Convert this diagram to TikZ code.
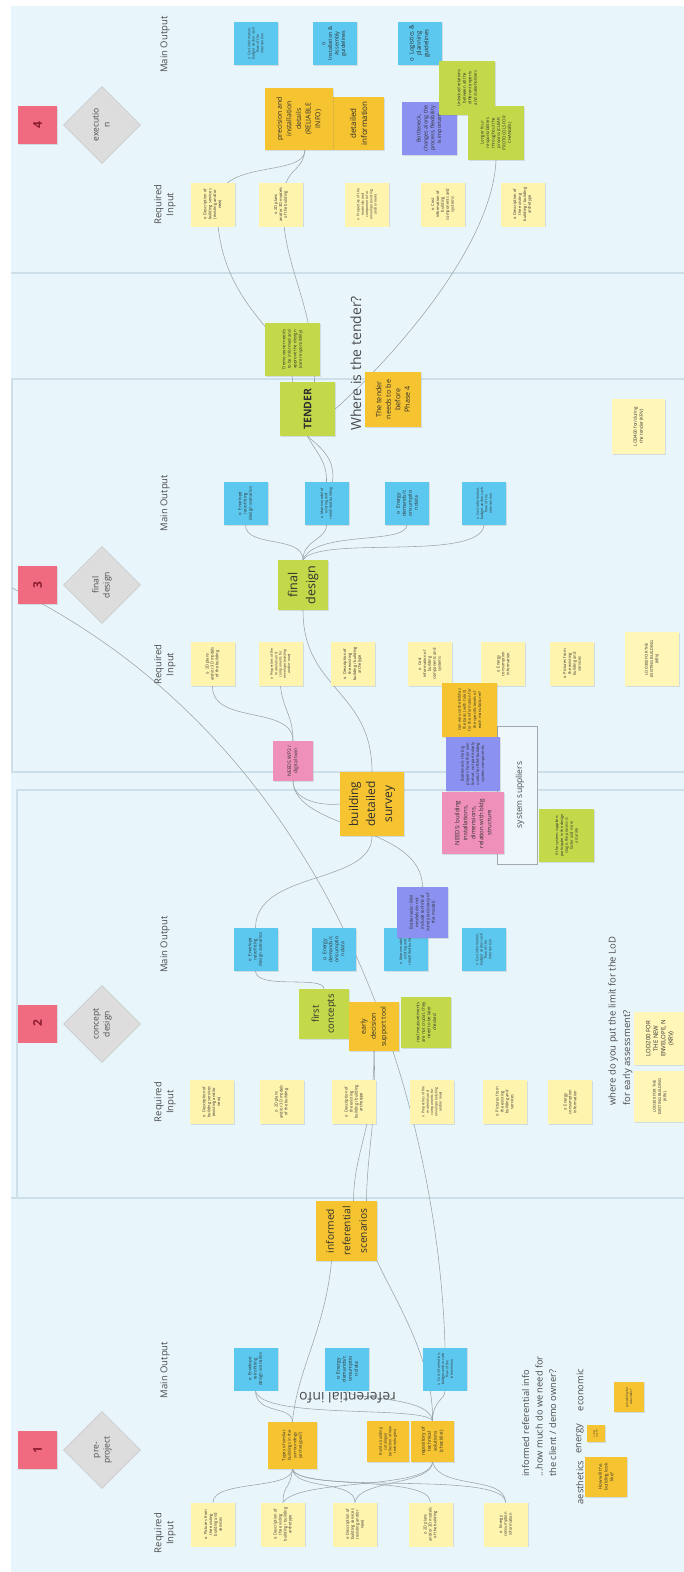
\documentclass[tikz,border=0pt]{standalone}
\usepackage{fontspec}
\setmainfont{Open Sans}
\usetikzlibrary{shapes.geometric,shadows}
\definecolor{bgc}{HTML}{E8F6FC}
\definecolor{framec}{HTML}{CDE0E9}
\definecolor{linkc}{HTML}{9AA2A7}
\definecolor{yin}{HTML}{FFF4AE}
\definecolor{bout}{HTML}{5CC8EF}
\definecolor{orn}{HTML}{F6C431}
\definecolor{grn}{HTML}{C4D94A}
\definecolor{prp}{HTML}{8B91F1}
\definecolor{pnk}{HTML}{EE90BA}
\definecolor{lyl}{HTML}{FFF6B8}
\definecolor{redc}{HTML}{F06B80}
\definecolor{redt}{HTML}{8C1D2F}
\definecolor{diaf}{HTML}{DDDDDD}
\definecolor{diad}{HTML}{CCCCCC}
\definecolor{ink}{HTML}{2F2F2F}
\definecolor{lblc}{HTML}{4B4B4B}
\definecolor{suppc}{HTML}{A3A9AE}
\definecolor{suppf}{HTML}{EEF8FC}

\pgfdeclarelayer{paper}
\pgfdeclarelayer{wires}
\pgfsetlayers{paper,wires,main}

% vertical (bottom-to-top) text block: width, font size, leading, text
\newcommand\vt[4]{\rotatebox{90}{\parbox{#1pt}{\centering\fontsize{#2}{#3}\selectfont #4\par}}}

% recurring sticky-note texts
\newcommand\tDesServ{o~ Description of building services (existing and/or new)}
\newcommand\tPlans{o~ 2D plans and/or 3D models of the building}
\newcommand\tProps{o~ Properties of the materials and components for envelope (existing and/or new)}
\newcommand\tCostIn{o~ Cost information of building components and systems}
\newcommand\tDesBld{o~ Description of the existing building / building archetype}
\newcommand\tPics{o~ Pictures from the existing building and services}
\newcommand\tEnIn{o~ Energy consumption information}
\newcommand\tEnv{o~ Envelope retrofitting design scenarios}
\newcommand\tEnD{o~ Energy\\demands/c\\onsumptio\\n data}
\newcommand\tMat{o~ Matrix model of existing and retrofitted building}
\newcommand\tCostOut{o~ Cost information, budget and/or cash flow of the intervention}

\begin{document}
\begin{tikzpicture}[x=1pt,y=1pt,
  link/.style={draw=linkc, line width=0.55pt},
  framel/.style={draw=framec, line width=1.3pt},
  note/.style={rectangle, inner sep=0pt, text=ink,
    drop shadow={shadow xshift=1.1pt, shadow yshift=-0.5pt, opacity=0.22}},
  box/.style 2 args={minimum width=#1pt, minimum height=#2pt},
  yin/.style={note, fill=yin, box={44}{44}},
  bout/.style={note, fill=bout, box={44}{43}},
  orn/.style={note, fill=orn},
  grn/.style={note, fill=grn},
  prp/.style={note, fill=prp},
  pnk/.style={note, fill=pnk},
  lyl/.style={note, fill=lyl},
  redsq/.style={note, fill=redc, box={39}{38}, text=redt,
    font=\fontsize{12}{14}\selectfont\bfseries},
  phase/.style={diamond, aspect=1, minimum width=77pt, minimum height=77pt,
    inner sep=0pt, fill=diaf, draw=diad, line width=0.6pt, text=lblc},
  lbl/.style={rotate=90, align=center, text=lblc, font=\fontsize{9.5}{12}\selectfont},
  ask/.style={inner sep=0pt, text=lblc},
]
\useasboundingbox (0,0) rectangle (684,-1572);

\begin{pgfonlayer}{paper}
\fill[white] (0,0) rectangle (684,-1572);
\fill[bgc] (11,-6) rectangle (684,-1572);
% phase frames and separators
\draw[framel] (11,-273) -- (684,-273);
\draw[framel] (12,-379) rectangle (690,-772);
\draw[framel] (17,-790) rectangle (690,-1198);
\draw[framel] (11,-1198) -- (684,-1198);
\end{pgfonlayer}

% system suppliers bracket
\node[draw=suppc, line width=0.6pt, fill=suppf, box={40}{138}, inner sep=0pt,
      text=lblc] (supp) at (517,-795)
      {\hspace*{6pt}\rotatebox{90}{\fontsize{8.5}{10}\selectfont system suppliers}};

% ---------- nodes ----------
% phase 4
\node[redsq] (red4) at (37.5,-125) {\rotatebox{90}{4}};
\node[phase] (dia4) at (102,-125) {\rotatebox{90}{\fontsize{8.5}{11}\selectfont\begin{tabular}{@{}c@{}}executio\\n\end{tabular}}};
\node[lbl] (mo4) at (165,-44.5) {Main Output};
\node[lbl] (ri4) at (165,-204.5) {Required\\Input};
\node[bout] (o4a) at (255.5,-43.5) {\vt{34}{3.5}{4.3}{\tCostOut}};
\node[bout] (o4b) at (334.5,-43.5) {\vt{38}{5.4}{6.6}{o\\Installation \& Assembly guidelines}};
\node[bout] (o4c) at (419.5,-43.5) {\vt{38}{6}{7.4}{o~ Logistics \& planning guidelines}};
\node[orn, box={51}{53}] (detail) at (358.5,-123.5) {\vt{46}{8}{11}{detailed information}};
\node[orn, box={68}{62}] (prec) at (299,-119) {\vt{52}{6.9}{9.6}{precision and\\installation\\details\\(RELIABLE\\INFO)}};
\node[prp, box={55}{53}] (bn4) at (429.5,-128.5) {\vt{46}{5.4}{6.8}{Bottleneck, changes along the process, flexibility is important}};
\node[grn, box={56}{54}] (unlock) at (467,-88) {\vt{40}{4.3}{5.5}{Unlocked relations between all the different experts and stakeholders}};
\node[grn, box={56}{54}] (longer) at (496,-133) {\vt{42}{4.3}{5.5}{Longer four responsibilities throughout the process (CLEAR PROTOCOLS FOR CHANGES)}};
\node[yin] (i4a) at (212.5,-204.5) {\vt{34}{4}{4.9}{\tDesServ}};
\node[yin] (i4b) at (281,-204.5) {\vt{34}{4}{4.9}{\tPlans}};
\node[yin] (i4c) at (367,-204.5) {\vt{34}{3.5}{4.3}{\tProps}};
\node[yin] (i4d) at (443,-204.5) {\vt{34}{4}{4.9}{\tCostIn}};
\node[yin] (i4e) at (522.5,-204.5) {\vt{34}{4}{4.9}{\tDesBld}};

% tender zone
\node[grn, box={55}{53}] (demo) at (292.5,-349.5) {\vt{42}{4.3}{5.5}{Demo owner needs to be informed and approve the design (care responsibility)}};
\node[grn, box={55}{54}] (tender) at (307.5,-409) {\rotatebox{90}{\fontsize{10.5}{12}\selectfont\bfseries TENDER}};
\node[orn, box={56}{55}] (before) at (393,-399.5) {\vt{46}{7.2}{9.5}{The tender\\needs to be\\before\\Phase 4}};
\node[lyl, box={53}{55}] (lod400) at (638.5,-426.5) {\vt{42}{4.5}{5.8}{LOD400 for/during the tender (KRV)}};

% phase 3
\node[redsq] (red3) at (37.5,-585) {\rotatebox{90}{3}};
\node[phase] (dia3) at (102,-585) {\rotatebox{90}{\fontsize{8.5}{11}\selectfont\begin{tabular}{@{}c@{}}final\\design\end{tabular}}};
\node[lbl] (mo3) at (165,-503) {Main Output};
\node[lbl] (ri3) at (165,-664.5) {Required\\Input};
\node[bout] (o3a) at (245.5,-503.5) {\vt{34}{4.3}{5.2}{\tEnv}};
\node[bout] (o3b) at (326.5,-503.5) {\vt{34}{3.6}{4.4}{\tMat}};
\node[bout] (o3c) at (407,-503.5) {\vt{34}{5}{6}{\tEnD}};
\node[bout] (o3d) at (484,-503.5) {\vt{34}{3.5}{4.3}{\tCostOut}};
\node[grn, box={50}{50}] (fd) at (303,-585) {\vt{46}{12.5}{18}{final design}};
\node[yin] (i3a) at (212.5,-664) {\vt{34}{4}{4.9}{\tPlans}};
\node[yin] (i3b) at (280.5,-664) {\vt{34}{3.5}{4.3}{\tProps}};
\node[yin] (i3c) at (352.5,-664) {\vt{34}{4}{4.9}{\tDesBld}};
\node[yin] (i3d) at (430,-664) {\vt{34}{4}{4.9}{\tCostIn}};
\node[yin] (i3e) at (503,-664) {\vt{34}{4}{4.9}{\tEnIn}};
\node[yin] (i3f) at (572,-664) {\vt{34}{4}{4.9}{\tPics}};
\node[lyl, box={54}{54}] (lod3e) at (652,-659) {\vt{42}{4}{5.2}{LOD300 FOR THE EXISTING BUILDING (KRV)}};
\node[pnk, box={40}{40}] (needs) at (293,-761) {\vt{32}{5}{6.2}{NEEDS WP2 / digital twin}};
\node[orn, box={55}{54}] (canwe) at (469.5,-710) {\vt{44}{4}{5.1}{Can we use the BIM as the basis (with `rules') for the information for the specific levels of each manufacturer?}};
\node[prp, box={54}{54}] (bn3) at (473,-764) {\vt{44}{4}{5.1}{Bottleneck: the big players have their own format, not particularly useful for BIM building system components}};
\node[orn, box={64}{64}] (bds) at (372,-804) {\vt{58}{12}{17}{building detailed survey}};
\node[pnk, box={62}{62}] (needsb) at (473,-823) {\vt{52}{6}{8}{NEEDS: building installations, dimensions, relation with bldg. structure}};
\node[grn, box={55}{53}] (ifsys) at (566.5,-835.5) {\vt{44}{3.8}{4.9}{If the system suppliers participate in the design stage, the process is faster and more accurate}};

% phase 2
\node[redsq] (red2) at (37.5,-1023.5) {\rotatebox{90}{2}};
\node[phase] (dia2) at (102,-1024) {\rotatebox{90}{\fontsize{8.5}{11}\selectfont\begin{tabular}{@{}c@{}}concept\\design\end{tabular}}};
\node[lbl] (mo2) at (165,-944.5) {Main Output};
\node[lbl] (ri2) at (165,-1102) {Required\\Input};
\node[bout] (o2a) at (255.5,-949.5) {\vt{34}{4.3}{5.2}{\tEnv}};
\node[bout] (o2b) at (333.5,-949.5) {\vt{34}{5}{6}{\tEnD}};
\node[bout] (o2c) at (405.5,-949.5) {\vt{34}{3.6}{4.4}{\tMat}};
\node[bout] (o2d) at (483.5,-949.5) {\vt{34}{3.5}{4.3}{\tCostOut}};
\node[prp, box={51}{51}] (bn2) at (422.5,-912.5) {\vt{42}{4.4}{5.5}{Bottlenecks: BIM models do not include technical survey (accuracy of the model)}};
\node[grn, box={50}{50}] (fc) at (324,-1014) {\vt{46}{9.5}{15}{first concepts}};
\node[orn, box={50}{49}] (ed) at (374,-1026.5) {\vt{44}{7}{10}{early decision support tool}};
\node[grn, box={50}{51}] (real) at (426,-1022.5) {\vt{42}{4.4}{5.6}{real measurements are not crucial, they need to be later checked}};
\node[lyl, box={53}{53}] (lod2n) at (660,-1038.5) {\vt{46}{6}{7.5}{LOD200 FOR THE NEW ENVELOPE, N (KRV)}};
\node[lyl, box={53}{51}] (lod2e) at (660,-1096.5) {\vt{40}{4}{5.2}{LOD300 FOR THE EXISTING BUILDING (KRV)}};
\node[yin] (i2a) at (211.5,-1102) {\vt{34}{4}{4.9}{\tDesServ}};
\node[yin] (i2b) at (281.5,-1102) {\vt{34}{4}{4.9}{\tPlans}};
\node[yin] (i2c) at (354,-1102) {\vt{34}{4}{4.9}{\tDesBld}};
\node[yin] (i2d) at (432,-1102) {\vt{34}{3.5}{4.3}{\tProps}};
\node[yin] (i2e) at (504.5,-1102) {\vt{34}{4}{4.9}{\tPics}};
\node[yin] (i2f) at (570,-1102) {\vt{34}{4}{4.9}{\tEnIn}};

% phase 1
\node[orn, box={61}{60}] (irs) at (346.5,-1231) {\vt{58}{10.2}{16.5}{informed referential scenarios}};
\node[redsq] (red1) at (37.5,-1450) {\rotatebox{90}{1}};
\node[phase] (dia1) at (102,-1450) {\rotatebox{90}{\fontsize{8.5}{11}\selectfont\begin{tabular}{@{}c@{}}pre-\\project\end{tabular}}};
\node[lbl] (mo1) at (165,-1370) {Main Output};
\node[lbl] (ri1) at (165,-1533) {Required\\Input};
\node[bout] (o1a) at (255.5,-1369) {\vt{34}{4.3}{5.2}{\tEnv}};
\node[bout] (o1b) at (347,-1369) {\vt{34}{5}{6}{\tEnD}};
\node[bout] (o1c) at (445,-1369) {\vt{34}{3.5}{4.3}{\tCostOut}};
\node[orn, box={49}{47}] (types) at (292.5,-1445.5) {\vt{38}{4.3}{5.5}{Types of similar buildings in the surroundings (archetypes?)}};
\node[orn, box={42}{41}] (build) at (388,-1441.5) {\vt{34}{3.8}{4.8}{Build a building catalogue (collection of new technologies)}};
\node[orn, box={43}{41}] (repo) at (432.5,-1441.5) {\vt{36}{4.8}{6}{repository of technical solutions (checklist)}};
\node[yin] (i1a) at (213,-1524.5) {\vt{34}{4}{4.9}{\tPics}};
\node[yin] (i1b) at (283,-1524.5) {\vt{34}{4}{4.9}{\tDesBld}};
\node[yin] (i1c) at (355,-1524.5) {\vt{34}{4}{4.9}{\tDesServ}};
\node[yin] (i1d) at (430.5,-1524.5) {\vt{34}{4}{4.9}{\tPlans}};
\node[yin] (i1e) at (505.5,-1524.5) {\vt{34}{4}{4.9}{\tEnIn}};
\node[orn, box={42}{40}] (look) at (606,-1477) {\vt{34}{4.5}{5.7}{How will the building look like?}};
\node[orn, box={18}{17}] (enote) at (596,-1433.5) {\vt{14}{2.2}{2.7}{energy target?}};
\node[orn, box={30}{30}] (subs) at (629,-1397) {\vt{24}{3.2}{4}{possibility for subsidies?}};

% ---------- free texts ----------
\node[ask, rotate=90, font=\fontsize{14}{16}\selectfont] (tq) at (356,-363.5) {Where is the tender?};
\node[ask, anchor=south] (lodq) at (620,-1106) {\rotatebox{90}{\fontsize{9.5}{14.5}\selectfont\begin{tabular}{@{}l@{}}where do you put the limit for the LoD\\for early assessment?\end{tabular}}};
\node[ask, anchor=south] (infq) at (540,-1477) {\rotatebox{90}{\fontsize{9.3}{13.5}\selectfont\begin{tabular}{@{}l@{}}informed referential info\\...how much do we need for\\the client / demo owner?\end{tabular}}};
\node[ask, rotate=90, font=\fontsize{9.3}{11}\selectfont] (aes) at (580,-1482.5) {aesthetics};
\node[ask, rotate=90, font=\fontsize{9.3}{11}\selectfont] (ene) at (580,-1438.5) {energy};
\node[ask, rotate=90, font=\fontsize{9.3}{11}\selectfont] (eco) at (580,-1390) {economic};
\node[ask, font=\fontsize{14}{16}\selectfont] (refinfo) at (347.5,-1398) {\rotatebox{180}{referential info}};

% ---------- connectors, drawn under the notes ----------
\coordinate (dstart) at (12,-588);
\begin{pgfonlayer}{wires}
% phase 4 towards the tender
\draw[link] ([xshift=6pt]prec.south) .. controls (304,-178) and (217,-158) .. (217,-205)
            .. controls (217,-310) and (292,-330) .. ([xshift=-15pt]tender.north);
\draw[link] ([xshift=6pt]prec.south) .. controls (302,-175) and (283,-165) .. (283,-205)
            .. controls (283,-270) and (314,-300) .. ([xshift=7pt]tender.north);
\draw[link] (longer.south) .. controls (492,-250) and (385,-365) .. (tender.east);
% tender and phase 3 outputs
\draw[link] (tender.south) .. controls (318,-455) and (327,-462) .. (o3b.north);
\draw[link] (tender.south) .. controls (324,-450) and (335,-460) .. ([xshift=6pt]o3b.north);
\draw[link] (o3a.south) .. controls (246,-548) and (303,-535) .. (fd.north);
\draw[link] (o3b.south) .. controls (326,-540) and (303,-540) .. (fd.north);
\draw[link] (o3c.south) .. controls (405,-545) and (315,-530) .. (fd.north);
\draw[link] (o3d.south) .. controls (480,-562) and (320,-535) .. (fd.north);
\draw[link] (fd.south) .. controls (303,-690) and (372,-690) .. (bds.north);
% phase 3 inputs to the survey
\draw[link] (i3a.south) .. controls (212,-725) and (293,-705) .. (needs.north);
\draw[link] (i3b.south) .. controls (283,-710) and (293,-715) .. (needs.north);
\draw[link] (needs.south) .. controls (293,-800) and (320,-806) .. (bds.west);
\draw[link] (needs.south) .. controls (295,-830) and (422,-825) .. (bn2.north);
% phase 2
\draw[link] (bds.south) .. controls (372,-885) and (256,-870) .. (o2a.north);
\draw[link] (o2a.south) .. controls (256,-990) and (324,-975) .. (fc.north);
\draw[link] (ed.south) .. controls (377,-1120) and (367,-1150) .. ([xshift=20pt]irs.north);
\draw[link] (ed.south) .. controls (374,-1130) and (354,-1150) .. ([xshift=7pt]irs.north);
% phase 1
\draw[link] ([xshift=-15pt]irs.south) .. controls (325,-1330) and (297,-1370) .. (types.north);
\draw[link] (irs.south east) .. controls (395,-1300) and (434,-1360) .. (repo.north);
\draw[link] (types.north) .. controls (292,-1405) and (256,-1415) .. (o1a.south);
\draw[link] (repo.north) .. controls (425,-1405) and (260,-1420) .. (o1a.south);
\draw[link] (o1b.south) .. controls (347,-1400) and (430,-1395) .. (repo.north);
\draw[link] (o1c.south) .. controls (445,-1400) and (433,-1400) .. (repo.north);
\draw[link] (types.south) .. controls (292,-1490) and (213,-1480) .. (i1a.north);
\draw[link] (types.south) .. controls (290,-1490) and (283,-1485) .. (i1b.north);
\draw[link] (types.south) .. controls (295,-1490) and (355,-1480) .. (i1c.north);
\draw[link] (types.south) .. controls (300,-1490) and (430,-1475) .. (i1d.north);
\draw[link] (types.south) .. controls (300,-1495) and (505,-1470) .. (i1e.north);
\draw[link] (repo.south) .. controls (430,-1490) and (300,-1478) .. (i1b.north);
\draw[link] (repo.south) .. controls (432,-1485) and (358,-1480) .. (i1c.north);
\draw[link] (repo.south) .. controls (440,-1490) and (505,-1475) .. (i1e.north);
% long link from the phase-3 edge down to phase 1
\draw[link] (dstart) .. controls (360,-760) and (440,-1150) .. (o1c.north);
\end{pgfonlayer}
\end{tikzpicture}
\end{document}
